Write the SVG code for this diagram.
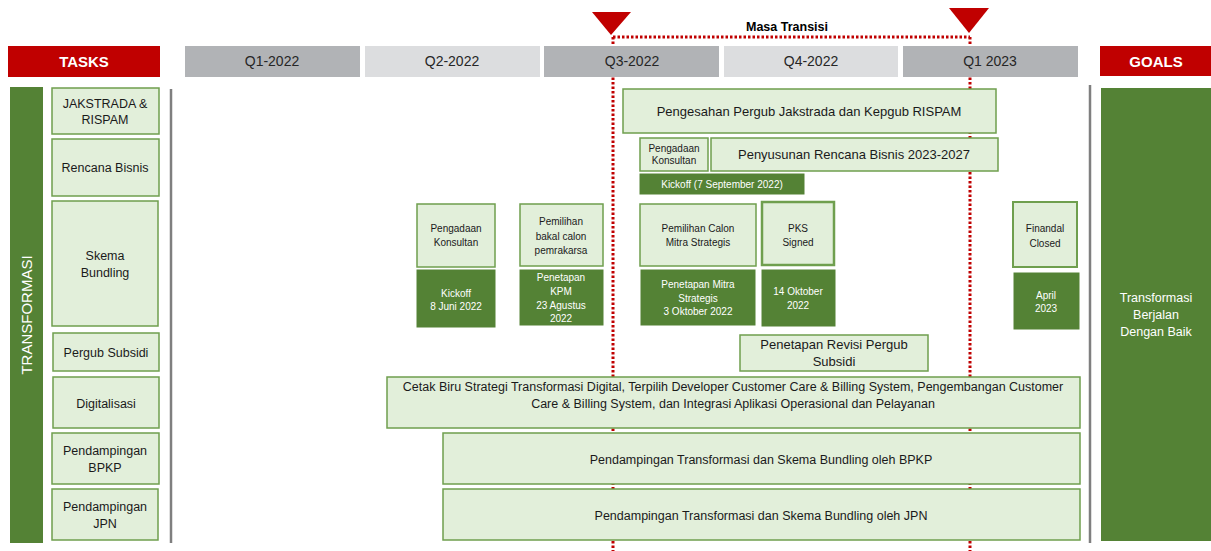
<svg xmlns="http://www.w3.org/2000/svg" width="1211" height="551" viewBox="0 0 1211 551">
<style>
text{font-family:"Liberation Sans",Arial,sans-serif;fill:#1a1a1a;text-anchor:middle}
.hdr{fill:#C00000}
.hdrt{fill:#fff;font-weight:bold;font-size:15px}
.qd{fill:#B1B3B6}
.ql{fill:#DCDDDF}
.qt{font-size:14px;fill:#262626}
.lb{fill:#E2EFDA;stroke:#6F9F4E;stroke-width:1.5}
.db{fill:#548235;stroke:#fff;stroke-width:1}
.w{fill:#fff}
.t12{font-size:12.5px}
.t13{font-size:13px}
.t10{font-size:10px}
.dot{stroke:#C00000;stroke-width:3;stroke-dasharray:2.5 2;fill:none}
.sep{stroke:#7F7F7F;stroke-width:2.5}
</style>

<g id="connectors">
<line class="dot" x1="613" y1="37" x2="970" y2="37"/>
<line class="dot" x1="613" y1="37" x2="613" y2="551"/>
<line class="dot" x1="970" y1="37" x2="970" y2="551"/>
<line class="sep" x1="171" y1="89" x2="171" y2="543"/>
<line class="sep" x1="1090" y1="85" x2="1090" y2="543"/>
</g>

<g id="markers">
<polygon points="592,12 631,12 611,35" fill="#C00000"/>
<polygon points="949,8 989,8 969,33" fill="#C00000"/>
<text x="787" y="31" style="font-size:12.5px;font-weight:bold;fill:#000">Masa Transisi</text>
</g>

<g id="header">
<rect class="hdr" x="8" y="46" width="152" height="31"/>
<text class="hdrt" x="84" y="67">TASKS</text>
<rect class="qd" x="185" y="46" width="175" height="31"/>
<text class="qt" x="272" y="66">Q1-2022</text>
<rect class="ql" x="365" y="46" width="175" height="31"/>
<text class="qt" x="452" y="66">Q2-2022</text>
<rect class="qd" x="544" y="46" width="175" height="31"/>
<text class="qt" x="632" y="66">Q3-2022</text>
<rect class="ql" x="724" y="46" width="174" height="31"/>
<text class="qt" x="811" y="66">Q4-2022</text>
<rect class="qd" x="903" y="46" width="175" height="31"/>
<text class="qt" x="990" y="66">Q1 2023</text>
<rect class="hdr" x="1100" y="46" width="111" height="30"/>
<text class="hdrt" x="1156" y="67">GOALS</text>
</g>

<g id="transformasi">
<rect x="10" y="87" width="33" height="456" fill="#548235"/>
<text transform="translate(32,315) rotate(-90)" style="font-size:15px;fill:#fff">TRANSFORMASI</text>
</g>

<g id="goal">
<rect x="1101" y="88" width="110" height="453" fill="#548235"/>
<text class="t12 w" x="1156" y="302">Transformasi</text>
<text class="t12 w" x="1156" y="319">Berjalan</text>
<text class="t12 w" x="1156" y="336">Dengan Baik</text>
</g>

<g id="task-jakstrada">
<rect class="lb" x="52" y="88" width="107" height="46"/>
<text class="t12" x="105" y="108">JAKSTRADA &amp;</text>
<text class="t12" x="105" y="124">RISPAM</text>
</g>
<g id="task-rencana">
<rect class="lb" x="52" y="139" width="107" height="57"/>
<text class="t12" x="105" y="172">Rencana Bisnis</text>
</g>
<g id="task-skema">
<rect class="lb" x="52" y="201" width="106" height="125"/>
<text class="t12" x="105" y="260">Skema</text>
<text class="t12" x="105" y="277">Bundling</text>
</g>
<g id="task-pergub">
<rect class="lb" x="53" y="333" width="106" height="38"/>
<text class="t12" x="106" y="357">Pergub Subsidi</text>
</g>
<g id="task-digital">
<rect class="lb" x="53" y="377" width="106" height="51"/>
<text class="t12" x="106" y="408">Digitalisasi</text>
</g>
<g id="task-bpkp">
<rect class="lb" x="52" y="433" width="107" height="51"/>
<text class="t12" x="105" y="455">Pendampingan</text>
<text class="t12" x="105" y="472">BPKP</text>
</g>
<g id="task-jpn">
<rect class="lb" x="52" y="489" width="106" height="51"/>
<text class="t12" x="105" y="511">Pendampingan</text>
<text class="t12" x="105" y="528">JPN</text>
</g>

<g id="pengesahan">
<rect class="lb" x="623" y="89" width="373" height="44"/>
<text class="t13" x="809" y="116">Pengesahan Pergub Jakstrada dan Kepgub RISPAM</text>
</g>
<g id="pengadaan-q3">
<rect class="lb" x="640" y="138" width="68" height="33"/>
<text class="t10" x="674" y="152">Pengadaan</text>
<text class="t10" x="674" y="164">Konsultan</text>
</g>
<g id="penyusunan">
<rect class="lb" x="711" y="138" width="287" height="33"/>
<text class="t13" x="854" y="159">Penyusunan Rencana Bisnis 2023-2027</text>
</g>
<g id="kickoff-sep">
<rect class="db" x="639" y="173" width="166" height="22"/>
<text class="t10 w" x="722" y="188">Kickoff (7 September 2022)</text>
</g>

<g id="pengadaan-q2">
<rect class="lb" x="417" y="204" width="78" height="63"/>
<text class="t10" x="456" y="232">Pengadaan</text>
<text class="t10" x="456" y="246">Konsultan</text>
</g>
<g id="kickoff-juni">
<rect class="db" x="416" y="269" width="80" height="59"/>
<text class="t10 w" x="456" y="297">Kickoff</text>
<text class="t10 w" x="456" y="310">8 Juni 2022</text>
</g>
<g id="pemilihan-bakal">
<rect class="lb" x="520" y="204" width="83" height="62"/>
<text class="t10" x="561" y="225">Pemilihan</text>
<text class="t10" x="561" y="240">bakal calon</text>
<text class="t10" x="561" y="254">pemrakarsa</text>
</g>
<g id="penetapan-kpm">
<rect class="db" x="519" y="269" width="85" height="57"/>
<text class="t10 w" x="561" y="281">Penetapan</text>
<text class="t10 w" x="561" y="295">KPM</text>
<text class="t10 w" x="561" y="309">23 Agustus</text>
<text class="t10 w" x="561" y="322">2022</text>
</g>
<g id="pemilihan-mitra">
<rect class="lb" x="640" y="204" width="116" height="62"/>
<text class="t10" x="698" y="232">Pemilihan Calon</text>
<text class="t10" x="698" y="246">Mitra Strategis</text>
</g>
<g id="penetapan-mitra">
<rect class="db" x="640" y="269" width="116" height="57"/>
<text class="t10 w" x="698" y="288">Penetapan Mitra</text>
<text class="t10 w" x="698" y="302">Strategis</text>
<text class="t10 w" x="698" y="315">3 Oktober 2022</text>
</g>
<g id="pks">
<rect class="lb" x="762" y="202" width="72" height="63" style="stroke-width:2.5"/>
<text class="t10" x="798" y="232">PKS</text>
<text class="t10" x="798" y="246">Signed</text>
</g>
<g id="pks-date">
<rect class="db" x="761" y="269" width="75" height="58"/>
<text class="t10 w" x="798" y="295">14 Oktober</text>
<text class="t10 w" x="798" y="309">2022</text>
</g>
<g id="financial">
<rect class="lb" x="1013" y="202" width="64" height="65" style="stroke-width:2"/>
<text class="t10" x="1045" y="232">Finandal</text>
<text class="t10" x="1045" y="247">Closed</text>
</g>
<g id="april">
<rect class="db" x="1013" y="272" width="67" height="58"/>
<text class="t10 w" x="1046" y="299">April</text>
<text class="t10 w" x="1046" y="312">2023</text>
</g>

<g id="revisi-pergub">
<rect class="lb" x="740" y="335" width="188" height="36"/>
<text class="t13" x="834" y="349">Penetapan Revisi Pergub</text>
<text class="t13" x="834" y="366">Subsidi</text>
</g>
<g id="cetak-biru">
<rect class="lb" x="387" y="377" width="693" height="51"/>
<text class="t12" x="733" y="391">Cetak Biru Strategi Transformasi Digital, Terpilih Developer Customer Care &amp; Billing System, Pengembangan Customer</text>
<text class="t12" x="733" y="408">Care &amp; Billing System, dan Integrasi Aplikasi Operasional dan Pelayanan</text>
</g>
<g id="bpkp">
<rect class="lb" x="443" y="433" width="637" height="51"/>
<text class="t12" x="761" y="464">Pendampingan Transformasi dan Skema Bundling oleh BPKP</text>
</g>
<g id="jpn">
<rect class="lb" x="443" y="489" width="637" height="51"/>
<text class="t12" x="761" y="520">Pendampingan Transformasi dan Skema Bundling oleh JPN</text>
</g>
</svg>
